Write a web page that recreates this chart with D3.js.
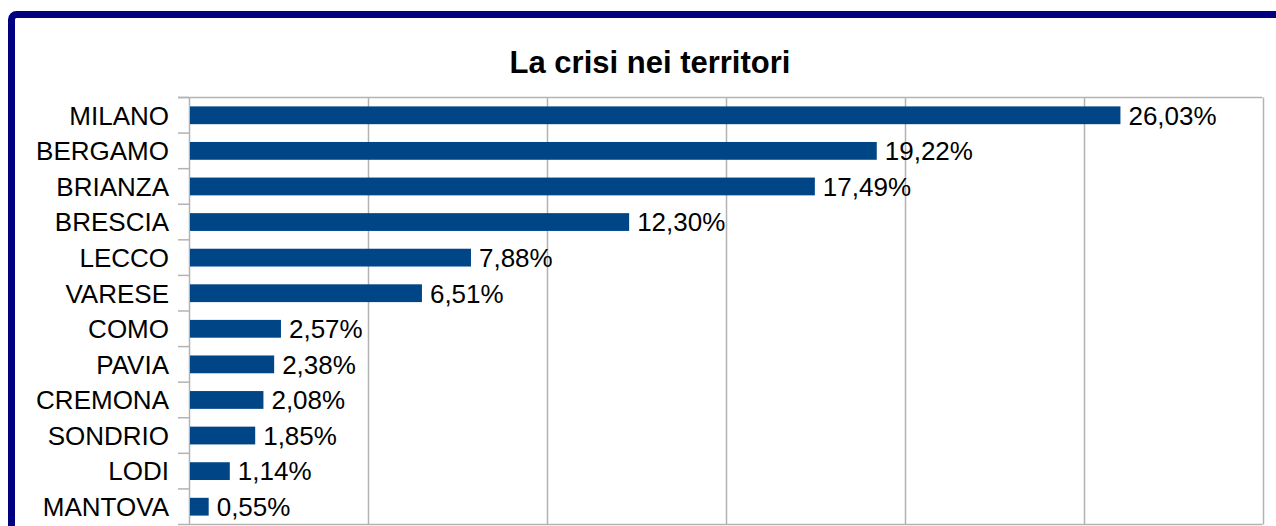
<!DOCTYPE html>
<html>
<head>
<meta charset="utf-8">
<script src="https://cdn.jsdelivr.net/npm/d3@7"></script>
<style>
  html, body { margin: 0; padding: 0; background: #fff; overflow: hidden; }
  svg { display: block; font-family: "Liberation Sans", Arial, sans-serif; }
</style>
</head>
<body>
<div id="chart"></div>
<script>
// chart data
var title = 'La crisi nei territori';
var territori = ['MILANO', 'BERGAMO', 'BRIANZA', 'BRESCIA', 'LECCO', 'VARESE',
  'COMO', 'PAVIA', 'CREMONA', 'SONDRIO', 'LODI', 'MANTOVA'];
var quote = [26.03, 19.22, 17.49, 12.30, 7.88, 6.51, 2.57, 2.38, 2.08, 1.85, 1.14, 0.55];
var gridTicks = [0, 5, 10, 15, 20, 25, 30];

var width = 1276, height = 526;
var margin = { left: 189, top: 97.5, right: 1262.5, bottom: 524.5 };

var svg = d3.select('#chart').append('svg')
  .attr('width', width)
  .attr('height', height);

// navy frame (continues past the window)
svg.append('rect')
  .attr('x', 11.5)
  .attr('y', 14.5)
  .attr('width', 1400)
  .attr('height', 700)
  .attr('rx', 5)
  .attr('fill', 'none')
  .attr('stroke', '#000080')
  .attr('stroke-width', 7);

var x = d3.scaleLinear()
  .domain([0, 30])
  .range([margin.left, margin.right]);

var y = d3.scaleBand()
  .domain(territori)
  .range([margin.top, margin.bottom])
  .paddingInner(0.5)
  .paddingOuter(0.25);

// vertical grid
svg.append('g')
  .selectAll('line')
  .data(gridTicks)
  .enter().append('line')
  .attr('x1', function (d) { return Math.round(x(d)) + 0.5; })
  .attr('x2', function (d) { return Math.round(x(d)) + 0.5; })
  .attr('y1', margin.top)
  .attr('y2', margin.bottom)
  .attr('stroke', '#b3b3b3')
  .attr('stroke-width', 1.5);

// top / bottom border of plot area
svg.append('line')
  .attr('x1', margin.left - 11).attr('x2', margin.right)
  .attr('y1', margin.top).attr('y2', margin.top)
  .attr('stroke', '#b3b3b3').attr('stroke-width', 1.5);
svg.append('line')
  .attr('x1', margin.left).attr('x2', margin.right)
  .attr('y1', margin.bottom).attr('y2', margin.bottom)
  .attr('stroke', '#b3b3b3').attr('stroke-width', 1.5);

// category axis: ticks between bands
var bounds = d3.range(territori.length + 1).map(function (i) { return margin.top + i * (margin.bottom - margin.top) / territori.length; });
svg.append('g')
  .selectAll('line')
  .data(bounds)
  .enter().append('line')
  .attr('x1', margin.left - 11)
  .attr('x2', margin.left)
  .attr('y1', function (d) { return d; })
  .attr('y2', function (d) { return d; })
  .attr('stroke', '#b3b3b3')
  .attr('stroke-width', 1.5);

// bars
svg.append('g')
  .selectAll('rect')
  .data(quote)
  .enter().append('rect')
  .attr('x', x(0) + 1)
  .attr('y', function (d, i) { return y(territori[i]); })
  .attr('width', function (d) { return x(d) - x(0) - 1; })
  .attr('height', y.bandwidth())
  .attr('fill', '#004586');

// category labels
svg.append('g')
  .selectAll('text')
  .data(territori)
  .enter().append('text')
  .attr('x', margin.left - 20)
  .attr('y', function (d) { return y(d) + y.bandwidth() / 2; })
  .attr('dy', '0.36em')
  .attr('text-anchor', 'end')
  .style('font-size', '26px')
  .style('fill', '#000')
  .text(function (d) { return d; });

// value labels
svg.append('g')
  .selectAll('text')
  .data(quote)
  .enter().append('text')
  .attr('x', function (d) { return x(d) + 8; })
  .attr('y', function (d, i) { return y(territori[i]) + y.bandwidth() / 2; })
  .attr('dy', '0.36em')
  .style('font-size', '26px')
  .style('fill', '#000')
  .text(function (d) { return d.toFixed(2).replace('.', ',') + '%'; });

// title
svg.append('text')
  .attr('x', 650)
  .attr('y', 72.5)
  .attr('text-anchor', 'middle')
  .style('font-weight', 'bold')
  .style('font-size', '31px')
  .text(title);
</script>
</body>
</html>
